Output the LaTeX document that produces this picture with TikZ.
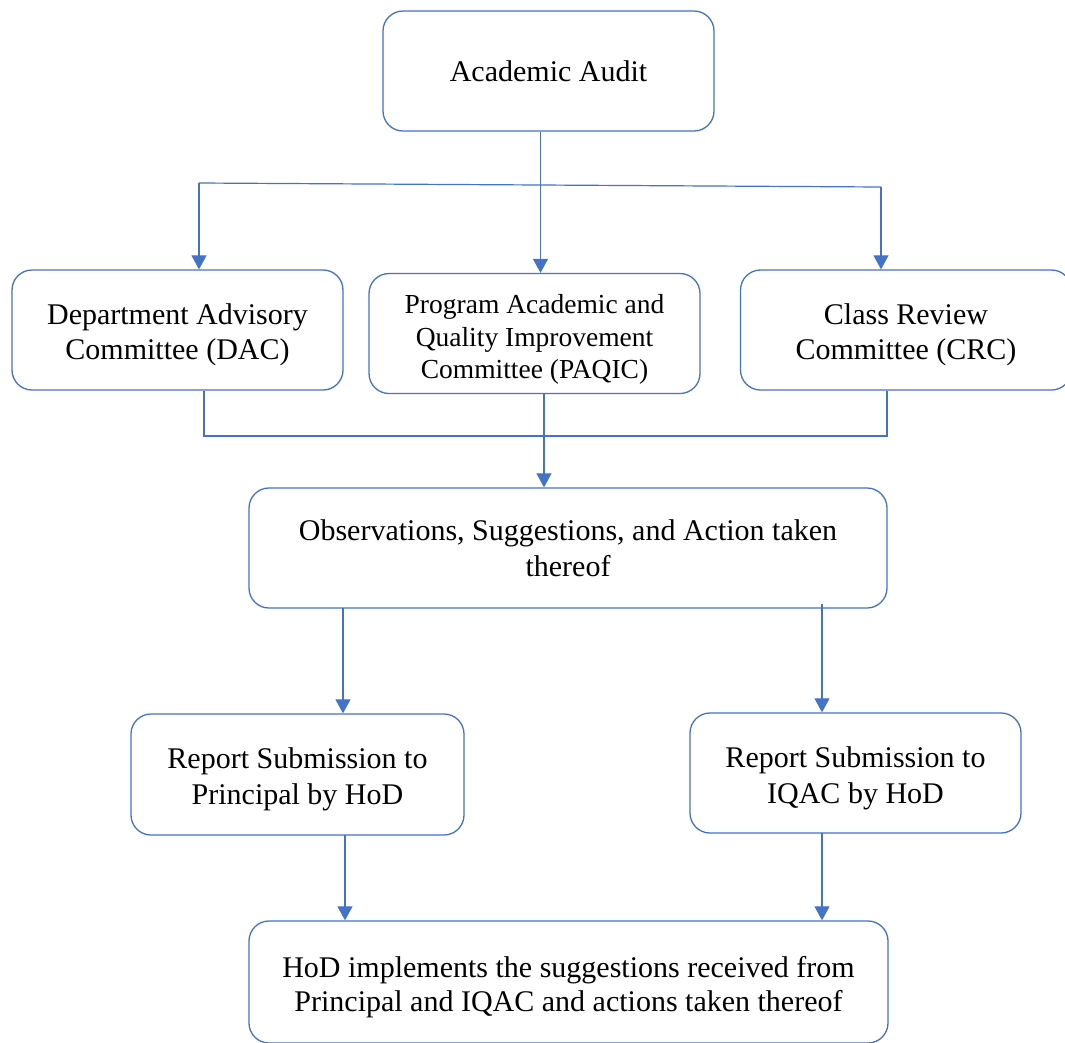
\documentclass[tikz,border=0pt]{standalone}
\usepackage{fontspec}
\setmainfont{Liberation Serif}
\usetikzlibrary{arrows.meta}
\definecolor{flowblue}{HTML}{4472C4}
\newcommand{\topgap}{\rule{0pt}{31pt}}
\tikzset{
    stage/.style={draw=flowblue, line width=1.3pt, rounded corners=20pt,
        minimum width=331pt, minimum height=120pt, align=center,
        font=\fontsize{30}{36}\selectfont},
    link/.style={draw=flowblue, line width=1.2pt},
    arrow/.style={link, -{Triangle[width=15pt,length=14pt]}}
}
\begin{document}
\begin{tikzpicture}[x=1pt, y=-1pt] % one unit = one pixel of the layout
    \useasboundingbox (0,0) rectangle (1065,1042);

    % Top stage
    \node[stage] (audit) at (548.5,71) {Academic Audit};

    % Three committees
    \node[stage, font=\fontsize{30}{35}\selectfont] (dac) at (177.5,330)
        {\topgap Department Advisory\\Committee (DAC)};
    \node[stage, font=\fontsize{27.5}{32.5}\selectfont] (paqic) at (534.5,333.5)
        {\topgap Program Academic and\\Quality Improvement\\Committee (PAQIC)};
    \node[stage, font=\fontsize{30}{35}\selectfont] (crc) at (906,330)
        {\topgap Class Review\\Committee (CRC)};

    % Outcome of the audit
    \node[stage, minimum width=638pt] (obs) at (568,548)
        {Observations, Suggestions, and Action taken\\thereof};

    % Reports
    \node[stage, minimum width=333pt, minimum height=121pt] (rprin) at (297.5,774.5)
        {\topgap Report Submission to\\Principal by HoD};
    \node[stage] (riqac) at (855.5,773) {\topgap Report Submission to\\IQAC by HoD};

    % Final stage
    \node[stage, minimum width=639pt, minimum height=122pt,
        font=\fontsize{30}{34}\selectfont] (hod) at (568.5,982)
        {\topgap HoD implements the suggestions received from\\Principal and IQAC and actions taken thereof};

    % Split from the audit to the committees
    \coordinate (splitL) at (199,183);
    \coordinate (splitR) at (881,187);
    \coordinate (auditOut) at ([xshift=-8pt]audit.south);
    \draw[link] (splitL) -- (splitR);
    \draw[arrow] (auditOut) -- (auditOut |- paqic.north);
    \draw[arrow] (splitL) -- (splitL |- dac.north);
    \draw[arrow] (splitR) -- (splitR |- crc.north);

    % Merge of the committees into the outcome
    \coordinate (mergeL) at (204,436);
    \coordinate (mergeR) at (887,436);
    \coordinate (paqicOut) at ([xshift=9.5pt]paqic.south);
    \draw[link] (mergeL |- dac.south) -- (mergeL) -- (mergeR) -- (mergeR |- crc.south);
    \draw[arrow] (paqicOut) -- (paqicOut |- obs.north);

    % Outcome to the two reports
    \coordinate (obsL) at (343,608);
    \coordinate (obsR) at (822,604);
    \draw[arrow] (obsL) -- (obsL |- rprin.north);
    \draw[arrow] (obsR) -- (obsR |- riqac.north);

    % Reports to the final stage
    \coordinate (prinOut) at (345,835);
    \coordinate (iqacOut) at (822,833);
    \draw[arrow] (prinOut) -- (prinOut |- hod.north);
    \draw[arrow] (iqacOut) -- (iqacOut |- hod.north);
\end{tikzpicture}
\end{document}
